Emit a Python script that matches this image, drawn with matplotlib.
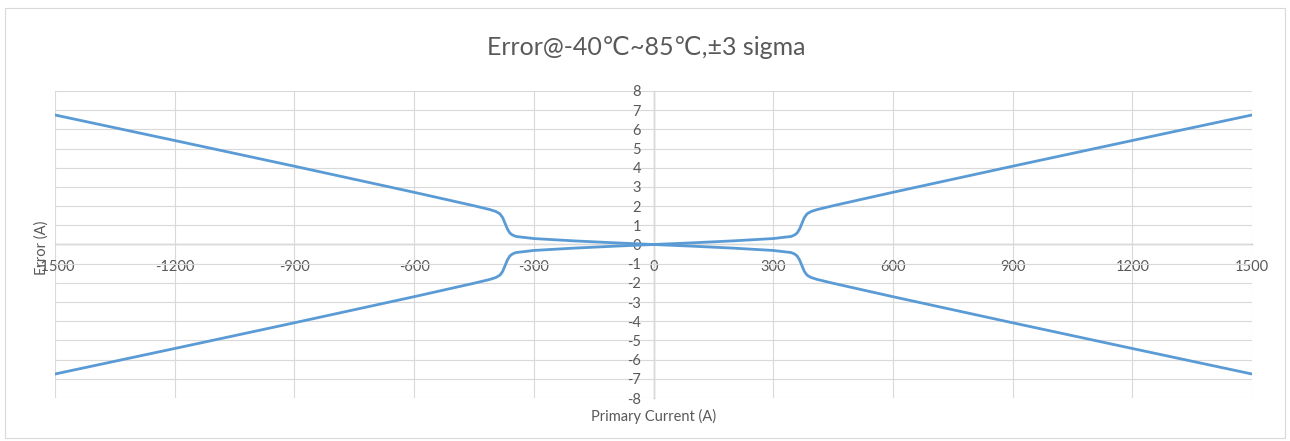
import matplotlib
matplotlib.use("Agg")
import matplotlib.pyplot as plt
from matplotlib.patches import Rectangle

plt.rcParams['font.family'] = ['Lato', 'DejaVu Sans']
plt.rcParams['axes.unicode_minus'] = False

# primary current (A)
current = [-1500, -1200, -900, -600, -450, -410, -395, -385, -378, -372, -366,
           -360, -354, -345, -300, -200, -100, 0, 100, 200, 300, 345, 354,
           360, 366, 372, 378, 385, 395, 410, 450, 600, 900, 1200, 1500]
# +3 sigma error (A)
err_pos = [6.75, 5.42, 4.08, 2.72, 2.02, 1.82, 1.72, 1.60, 1.40, 1.10, 0.80,
           0.60, 0.50, 0.42, 0.31, 0.19, 0.09, 0.0, 0.09, 0.19, 0.31, 0.42, 0.50,
           0.60, 0.80, 1.10, 1.40, 1.60, 1.72, 1.82, 2.02, 2.72, 4.08, 5.42, 6.75]
# -3 sigma error (A)
err_neg = [-6.75, -5.42, -4.08, -2.72, -2.02, -1.82, -1.72, -1.60, -1.40, -1.10, -0.80,
           -0.60, -0.50, -0.42, -0.31, -0.19, -0.09, 0.0, -0.09, -0.19, -0.31, -0.42, -0.50,
           -0.60, -0.80, -1.10, -1.40, -1.60, -1.72, -1.82, -2.02, -2.72, -4.08, -5.42, -6.75]

x_ticks = [-1500, -1200, -900, -600, -300, 0, 300, 600, 900, 1200, 1500]
y_ticks = list(range(-8, 9))

TEXT = "#595959"
GRID = "#d9d9d9"
LINE = "#5b9bd5"

fig = plt.figure(figsize=(12.9, 4.41), dpi=100)
fig.patches.append(Rectangle((5 / 1290, 3 / 441), 1280 / 1290, 430 / 441,
                             transform=fig.transFigure, fill=False,
                             edgecolor=GRID, linewidth=0.8))
ax = fig.add_axes([55 / 1290, 1 - 398 / 441, 1197 / 1290, 307 / 441])

ax.plot(current, err_pos, color=LINE, lw=2, solid_capstyle="round")
ax.plot(current, err_neg, color=LINE, lw=2, solid_capstyle="round")

ax.set_xlim(-1500, 1500)
ax.set_ylim(-8, 8)
ax.set_xticks(x_ticks)
ax.set_yticks(y_ticks)
ax.grid(True, color=GRID, lw=0.8)
ax.set_axisbelow(True)

for side in ["top", "right"]:
    ax.spines[side].set_visible(False)
ax.spines["left"].set_position(("data", 0))
ax.spines["bottom"].set_position(("data", 0))
for side in ["left", "bottom"]:
    ax.spines[side].set_color("#bfbfbf")
    ax.spines[side].set_linewidth(1.0)
    ax.spines[side].set_zorder(0.5)

ax.tick_params(axis="both", length=0, labelcolor=TEXT, labelsize=10.5)
ax.tick_params(axis="y", pad=9)
ax.tick_params(axis="x", pad=11)

ax.set_title("Error@-40℃~85℃,±3 sigma", color=TEXT, fontsize=18, pad=26, x=0.494)
ax.set_xlabel("Primary Current (A)", color=TEXT, fontsize=10.5)
ax.set_ylabel("Error (A)", color=TEXT, fontsize=10.5)
ax.xaxis.set_label_coords(0.5, -0.035)
ax.yaxis.set_label_coords(-0.005, 0.49)

fig.savefig("out.png", dpi=100)
